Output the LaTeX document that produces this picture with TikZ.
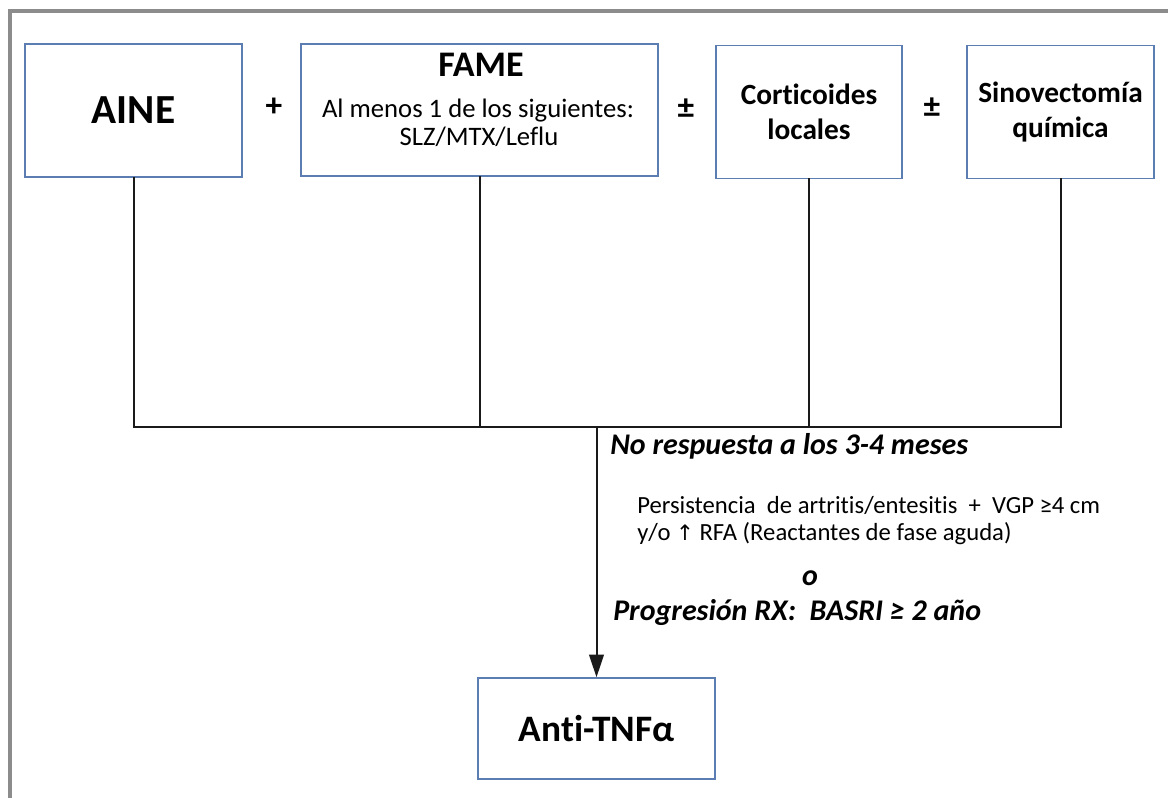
\documentclass[tikz,border=0pt]{standalone}
\usepackage{fontspec}
\setmainfont{Carlito}[Ligatures=NoCommon]
\newfontfamily\symfont{DejaVu Sans}
\usepackage{tikz}
\usetikzlibrary{arrows.meta, positioning}
\definecolor{boxblue}{HTML}{5B7DB1}
\definecolor{framegray}{HTML}{8C8C8C}
\definecolor{linedark}{HTML}{1A1A1A}

\begin{document}
\begin{tikzpicture}[x=0.75pt, y=-0.75pt,
  box/.style={draw=boxblue, line width=1.1pt, fill=white, align=center, inner sep=0pt},
  link/.style={draw=linedark, line width=1.5pt, line cap=rect},
  sign/.style={font=\fontsize{25}{29}\selectfont\bfseries},
  crit/.style={anchor=mid west, inner sep=0pt}]

\useasboundingbox (0,0) rectangle (1168,798);

% Outer frame
\draw[framegray, line width=3.5pt] (10,805) -- (10,11) -- (1175,11);

% Treatment boxes
\node[box, minimum width=162.75pt, minimum height=99.75pt,
  font=\fontsize{31}{36}\selectfont\bfseries] (aine) at (133.5,110.5) {AINE};
\node[box, minimum width=267.75pt, minimum height=99pt] (fame) at (479.5,110) {};
\node[box, minimum width=139.5pt, minimum height=99.75pt,
  font=\fontsize{22}{26.3}\selectfont\bfseries] (cort) at (809,112) {Corticoides\\locales};
\node[box, minimum width=140.25pt, minimum height=99.75pt,
  font=\fontsize{22}{26.3}\selectfont\bfseries] (sino) at (1060.5,112) {Sinovectomía\\química};

% FAME box text
\node[anchor=base, inner sep=0pt, font=\fontsize{27}{30}\selectfont\bfseries] (fametitle) at (481,77) {FAME};
\node[anchor=base, inner sep=0pt, font=\fontsize{20}{24}\selectfont] (famehint) at (478,118) {Al menos 1 de los siguientes:};
\node[anchor=base, inner sep=0pt, font=\fontsize{20}{24}\selectfont] (famedrugs) at (479,146) {SLZ/MTX/Leflu};

% Signs between boxes
\node[sign] (plus) at (274,107) {+};
\node[sign] (pm1) at (686,109) {±};
\node[sign] (pm2) at (932,108) {±};

% Target box
\node[box, minimum width=177.75pt, minimum height=75.75pt,
  font=\fontsize{28}{33}\selectfont\bfseries] (anti) at (596.5,728.5) {Anti-TNFα};

% Connectors
\coordinate (bus) at (0,427);
\foreach \b in {aine, fame, cort, sino}
  \draw[link] (\b.south) -- (\b.south |- bus);
\draw[link] (aine.south |- bus) -- (sino.south |- bus);
\draw[link, line cap=butt, -{Triangle[length=17pt, width=11pt]}] (anti.north |- bus) -- (anti.north);

% Criteria
\node[crit, font=\fontsize{22.5}{27}\selectfont\bfseries\itshape] (noresp) at (610,451) {No respuesta a los 3-4 meses};
\node[crit, font=\fontsize{18.5}{22}\selectfont] (persist) at (637,510) {Persistencia\ \ de artritis/entesitis \ + \ VGP ≥4 cm};
\node[crit, font=\fontsize{18.5}{22}\selectfont] (rfa) at (637,537) {y/o {\symfont\fontsize{16}{20}\selectfont ↑} RFA (Reactantes de fase aguda)};
\node[font=\fontsize{22.5}{27}\selectfont\bfseries\itshape, inner sep=0pt] (orword) at (810,578) {o};
\node[crit, font=\fontsize{22.5}{27}\selectfont\bfseries\itshape] (basri) at (613,617) {Progresión RX:\ \ BASRI ≥ 2 año};

\end{tikzpicture}
\end{document}
